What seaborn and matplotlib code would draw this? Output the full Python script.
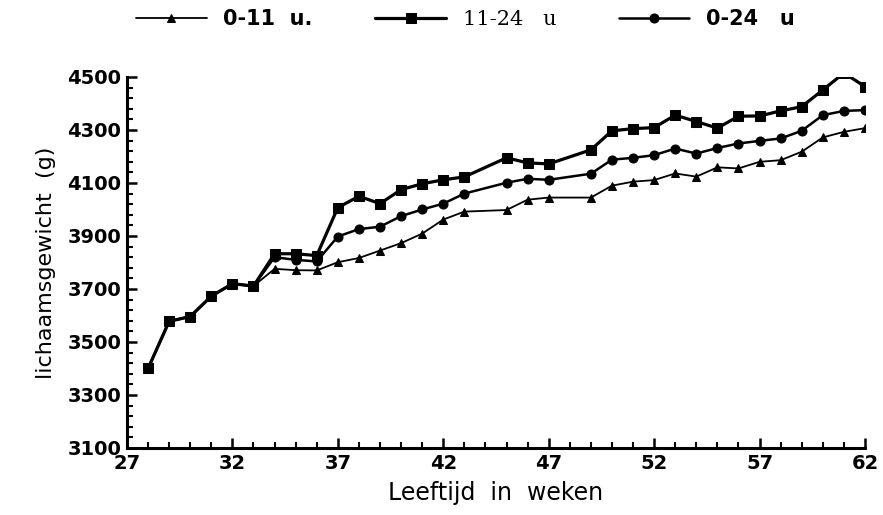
import numpy as np
import pandas as pd
import matplotlib
matplotlib.use("Agg")
import matplotlib.pyplot as plt
from matplotlib.ticker import FixedLocator, MultipleLocator
import seaborn as sns

# ---- data ----
weeks = [28, 29, 30, 31, 32, 33, 34, 35, 36, 37, 38, 39, 40, 41, 42, 43,
         45, 46, 47, 49, 50, 51, 52, 53, 54, 55, 56, 57, 58, 59, 60, 61, 62]

w_0_11 = [3400, 3578, 3596, 3673, 3720, 3711, 3776, 3771, 3770, 3801, 3817,
          3845, 3873, 3909, 3962, 3992, 3998, 4037, 4045, 4045, 4090, 4105,
          4111, 4136, 4124, 4159, 4155, 4180, 4186, 4218, 4272, 4293, 4307]

w_11_24 = [3400, 3578, 3596, 3673, 3720, 3711, 3833, 3833, 3826, 4007, 4050,
           4022, 4075, 4097, 4112, 4123, 4195, 4176, 4172, 4225, 4297, 4305,
           4309, 4356, 4332, 4307, 4352, 4353, 4372, 4388, 4451, 4515, 4464]

w_0_24 = [3400, 3578, 3596, 3673, 3720, 3711, 3820, 3810, 3804, 3898, 3926,
          3935, 3975, 4000, 4022, 4060, 4101, 4116, 4112, 4135, 4188, 4195,
          4205, 4230, 4211, 4232, 4249, 4259, 4268, 4297, 4356, 4372, 4375]

labels = ["0-11  u.", "11-24   u", "0-24   u"]
x_ticks = [27, 32, 37, 42, 47, 52, 57, 62]
y_ticks = [3100, 3300, 3500, 3700, 3900, 4100, 4300, 4500]

df = pd.DataFrame({
    "week": weeks * 3,
    "gewicht": w_0_11 + w_11_24 + w_0_24,
    "groep": [labels[0]] * len(weeks) + [labels[1]] * len(weeks) + [labels[2]] * len(weeks),
})

sns.set_style("ticks")
plt.rcParams["font.family"] = ["DejaVu Sans"]
plt.rcParams["text.color"] = "black"
plt.rcParams["axes.labelcolor"] = "black"

fig = plt.figure(figsize=(8.83, 5.15), dpi=100)
ax = fig.add_axes([0.1438, 0.1301, 0.8358, 0.7204])

styles = {
    labels[0]: dict(marker="^", markersize=5.5, linewidth=1.3),
    labels[2]: dict(marker="o", markersize=6.5, linewidth=1.8),
    labels[1]: dict(marker="s", markersize=7, linewidth=2.3),
}
handles = {}
for lab in [labels[0], labels[2], labels[1]]:
    sub = df[df["groep"] == lab]
    sns.lineplot(data=sub, x="week", y="gewicht", ax=ax, color="black",
                 markeredgecolor="black", markerfacecolor="black",
                 estimator=None, sort=False, legend=False, **styles[lab])
    handles[lab] = ax.lines[-1]

ax.set_xlim(27, 62)
ax.set_ylim(3100, 4500)
ax.xaxis.set_major_locator(FixedLocator(x_ticks))
ax.xaxis.set_minor_locator(MultipleLocator(1))
ax.yaxis.set_major_locator(FixedLocator(y_ticks))
ax.yaxis.set_minor_locator(FixedLocator(list(range(3100, 4501, 40))))

for s in ["top", "right"]:
    ax.spines[s].set_visible(False)
for s in ["left", "bottom"]:
    ax.spines[s].set_linewidth(2.2)
    ax.spines[s].set_color("black")

ax.tick_params(axis="both", which="major", direction="in", length=7, width=1.8,
               colors="black", labelsize=14, pad=4)
ax.tick_params(axis="both", which="minor", direction="in", length=4, width=1.5,
               colors="black")
for t in ax.get_xticklabels() + ax.get_yticklabels():
    t.set_fontweight("bold")

ax.set_xlabel("Leeftijd  in  weken", fontsize=17, labelpad=6, color="black")
ax.set_ylabel("lichaamsgewicht  (g)", fontsize=16, labelpad=8, color="black")

leg = fig.legend([handles[l] for l in labels], labels, loc="center",
                 bbox_to_anchor=(0.527, 0.963), ncol=3, frameon=False,
                 handlelength=3.4, columnspacing=3.0, handletextpad=0.8,
                 fontsize=15)
texts = leg.get_texts()
texts[0].set_fontweight("bold")
texts[1].set_family("DejaVu Serif")
texts[2].set_fontweight("bold")
for t in texts:
    t.set_color("black")

fig.savefig("out.png", dpi=100, facecolor="white")
